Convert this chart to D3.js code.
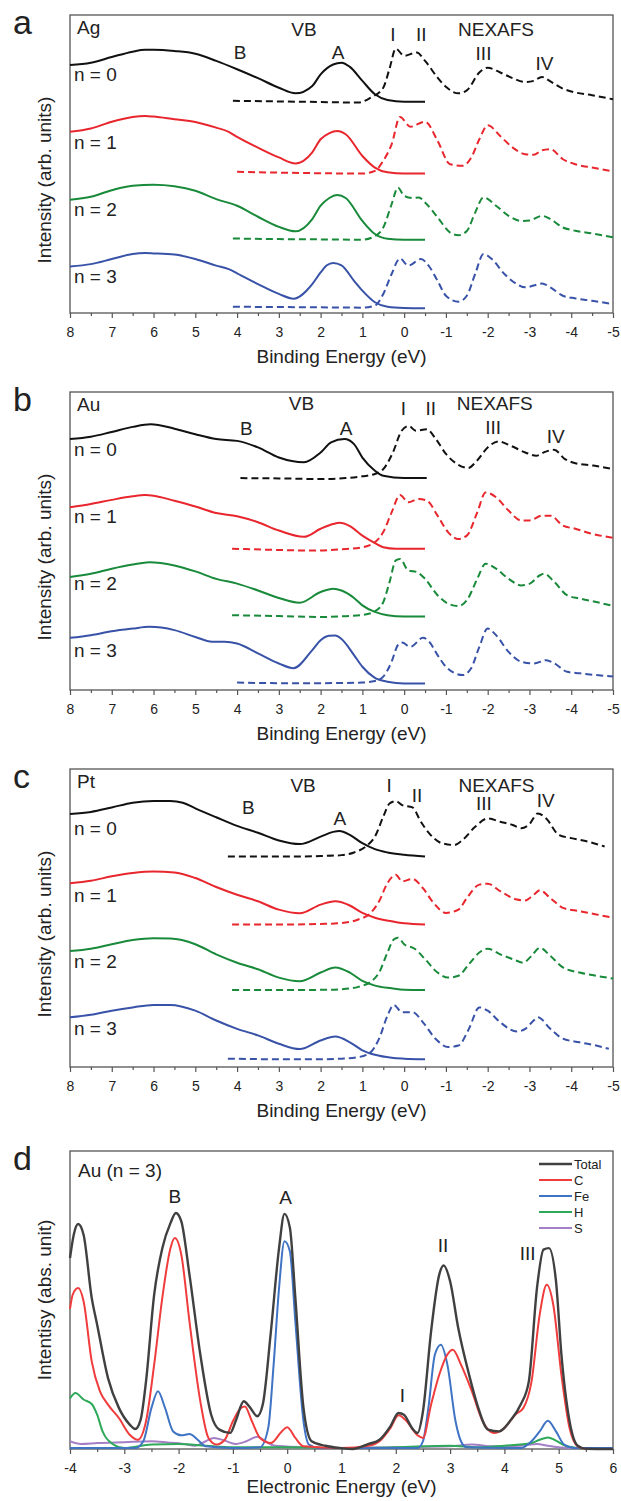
<!DOCTYPE html>
<html>
<head>
<meta charset="utf-8">
<script src="https://cdn.jsdelivr.net/npm/d3@7"></script>
<style>
  body { margin: 0; background: #fff; }
  text { font-family: "Liberation Sans", Arial, sans-serif; fill: #222; }
</style>
</head>
<body>
<svg id="chart" width="621" height="1501"></svg>
<script>

// ---- Data (energy in eV, intensity in % of panel height) ----

// a: Ag
var agVB0 = [[8,83.2],[7.5,84.0],[7,85.9],[6.5,87.7],[6.2,88.3],[6,88.3],[5.5,87.9],[5,87.0],[4.5,84.6],[4,81.8],[3.5,78.8],[3,75.6],[2.6,73.7],[2.2,76.2],[2,80.1],[1.7,83.4],[1.5,84.0],[1.3,82.6],[1,77.9],[0.7,73.4],[0.4,71.5],[0,70.9],[-0.5,70.9]];
var agNX0 = [[4.1,71.2],[3,71.0],[2,70.8],[1.1,70.6],[0.8,72.3],[0.5,75.6],[0.35,82],[0.2,88.7],[0,86.3],[-0.3,87.4],[-0.5,84.6],[-0.8,79],[-1,75.9],[-1.3,73.7],[-1.5,74.7],[-1.8,80.7],[-2,82.3],[-2.3,80.7],[-2.6,78.8],[-2.9,77.5],[-3.1,77.9],[-3.3,79.2],[-3.5,77.7],[-3.8,75.3],[-4.1,74],[-4.5,73.1],[-5,71.7]];
var agVB1 = [[8,60.8],[7.5,61.9],[7,64.2],[6.5,65.8],[6.2,66.1],[6,65.9],[5.5,65.0],[5,64.1],[4.5,62.2],[4.2,60.8],[4,59.1],[3.5,55.5],[3,52.2],[2.6,50.2],[2.2,53.9],[2,58.3],[1.8,60.3],[1.6,61.1],[1.4,60.0],[1,52.7],[0.7,48.8],[0.4,47.2],[0,46.8],[-0.5,46.8]];
var agNX1 = [[4,47.4],[3,47.1],[2,46.9],[1,46.8],[0.7,47.7],[0.5,51.1],[0.3,56.6],[0.1,65.8],[-0.15,62.5],[-0.5,64.2],[-0.8,57.8],[-1.1,49.9],[-1.4,49.4],[-1.6,52],[-1.8,58.3],[-2,63.0],[-2.3,59.4],[-2.6,55.5],[-2.9,53.3],[-3.1,53.1],[-3.3,54.6],[-3.5,55],[-3.8,51.6],[-4.1,49.9],[-4.5,48.8],[-5,47.5]];
var agVB2 = [[8,38.0],[7.5,39.0],[7,41.2],[6.5,42.7],[6,43.0],[5.5,42.5],[5,41.0],[4.5,38.2],[4,36.0],[3.5,32.3],[3,28.9],[2.6,27.4],[2.2,31.5],[2,36.0],[1.8,38.5],[1.6,39.6],[1.4,38.6],[1,30.9],[0.7,26.5],[0.4,24.9],[0,24.6],[-0.5,24.6]];
var agNX2 = [[4.1,25.0],[3,24.8],[2,24.7],[1,24.6],[0.7,25.8],[0.5,28.7],[0.3,36.5],[0.15,42.1],[0,39.3],[-0.2,38.6],[-0.35,38.8],[-0.5,37.1],[-0.8,32.1],[-1.1,27.0],[-1.3,26.1],[-1.5,27.5],[-1.7,33.7],[-1.9,38.8],[-2.2,36.0],[-2.5,32.6],[-2.8,30.9],[-3,31.0],[-3.3,32.6],[-3.5,31.5],[-3.8,28.7],[-4.1,27.6],[-4.5,26.7],[-5,25.4]];
var agVB3 = [[8,15.6],[7.5,16.4],[7,18.1],[6.5,19.8],[6.2,20.1],[6,20.0],[5.5,19.6],[5,18.1],[4.5,15.9],[4.2,14.7],[4,13.3],[3.5,9.7],[3,6.4],[2.65,4.8],[2.2,9.7],[2,13.6],[1.85,16.0],[1.7,16.8],[1.5,16.0],[1.2,10.8],[1,7.5],[0.7,3.6],[0.4,2.1],[0,1.7],[-0.5,1.6]];
var agNX3 = [[4.1,2.1],[3,2.0],[2,1.9],[1,1.8],[0.7,2.5],[0.5,6.4],[0.3,13.1],[0.1,18.3],[-0.1,15.9],[-0.4,18.1],[-0.6,15.6],[-0.8,10.8],[-1,5.8],[-1.3,3.8],[-1.5,5.8],[-1.7,13.1],[-1.9,19.8],[-2.1,18.1],[-2.4,13.1],[-2.7,9.7],[-2.9,8.6],[-3.1,9.2],[-3.3,9.9],[-3.5,8.6],[-3.8,5.8],[-4.1,4.9],[-4.5,4.1],[-5,3.0]];

// b: Au
var auVB0 = [[8,84.2],[7.5,85.0],[7,86.6],[6.5,88.3],[6.07,89.2],[5.5,87.7],[5,85.8],[4.5,84.2],[4,83.6],[3.5,81.4],[3,78.0],[2.4,76.4],[2,79.7],[1.75,83.1],[1.43,84.2],[1.2,82.5],[1,78],[0.7,73.6],[0.5,71.9],[0,71.1],[-0.54,71.1]];
var auNX0 = [[3.92,71.1],[3,71.0],[2,70.8],[1.4,71.1],[1,71.7],[0.7,72.5],[0.5,74.1],[0.27,79.7],[0.06,87],[-0.11,88.6],[-0.28,87],[-0.54,87.5],[-0.76,84.2],[-1,79.2],[-1.27,75.8],[-1.53,74.5],[-1.74,76.9],[-2,81.4],[-2.26,83.4],[-2.56,81.9],[-2.9,79.7],[-3.16,78.6],[-3.37,79.9],[-3.59,80.6],[-3.85,77.5],[-4.1,76.1],[-4.53,75.3],[-5,74.1]];
var auVB1 = [[8,61.3],[7.5,62.4],[7,63.8],[6.5,65.0],[6.2,65.4],[6,65.2],[5.5,63.5],[5,61.6],[4.5,59.4],[4,58.3],[3.5,56.3],[3,53.5],[2.4,51.4],[2,54.1],[1.7,55.7],[1.55,56.1],[1.3,55],[1,51.8],[0.7,49.3],[0.5,47.9],[0.2,47.4],[-0.5,47.4]];
var auNX1 = [[4.12,47.4],[3,47.0],[2.2,46.8],[1.5,47.2],[1,47.9],[0.7,49.6],[0.5,53],[0.3,59.6],[0.1,65.4],[-0.1,63],[-0.35,64.1],[-0.55,63.5],[-0.8,58.5],[-1.05,53],[-1.3,50.7],[-1.5,51.8],[-1.75,59.6],[-1.95,66.3],[-2.2,64.7],[-2.5,60.2],[-2.8,56.9],[-3,56.9],[-3.3,58.5],[-3.5,58.5],[-3.8,55.2],[-4.1,54.1],[-4.5,52.4],[-5,51.1]];
var auVB2 = [[8,37.9],[7.5,39.0],[7,40.7],[6.5,42.1],[6.1,42.9],[5.5,41.8],[5,39.8],[4.5,37.3],[4,35.7],[3.5,33.4],[3,30.9],[2.5,29.3],[2,32.9],[1.7,34.0],[1.5,33.4],[1.2,30.9],[1,28.4],[0.7,26.2],[0.4,25.1],[0,24.7],[-0.5,24.7]];
var auNX2 = [[4.12,25.1],[3,24.8],[2,24.5],[1.5,24.7],[1,25.2],[0.7,26.4],[0.5,29.5],[0.35,36.2],[0.2,43.5],[0.1,44],[-0.1,40.1],[-0.3,39.6],[-0.5,37.3],[-0.8,31.8],[-1.05,29],[-1.3,28.2],[-1.5,30.1],[-1.75,37.3],[-1.95,42.4],[-2.2,40.7],[-2.5,37.3],[-2.8,35.1],[-3,35.6],[-3.25,38.5],[-3.35,39],[-3.6,36.2],[-3.9,31.8],[-4.2,30.7],[-4.6,29.5],[-5,28.2]];
var auVB3 = [[8,17.5],[7.5,18.4],[7,19.7],[6.5,20.6],[6.1,21.2],[5.5,20.1],[5,17.8],[4.6,16.2],[4.3,16.2],[4,15.6],[3.5,12.3],[3,8.9],[2.65,7.3],[2.2,13.4],[2,16.7],[1.8,18.2],[1.65,18.3],[1.5,17.1],[1.2,11.7],[1,7.8],[0.7,4.1],[0.4,2.8],[0,2.2],[-0.5,2.2]];
var auNX3 = [[4,2.5],[3,2.3],[2,2.3],[1,2.5],[0.7,3.0],[0.5,4.5],[0.3,9.5],[0.15,15.1],[0.05,15.9],[-0.15,14.5],[-0.45,17.5],[-0.6,16.2],[-0.8,11.7],[-1,7.8],[-1.4,5],[-1.6,7.2],[-1.8,14.5],[-2,20.6],[-2.2,18.4],[-2.5,12.8],[-2.8,9.5],[-3.1,8.9],[-3.4,10],[-3.6,8.9],[-3.9,6.1],[-4.2,5.6],[-4.6,5.0],[-5,4.5]];

// c: Pt
var ptVB0 = [[8,84.9],[7.5,85.6],[7,87.1],[6.5,88.7],[6,89.3],[5.6,89.3],[5.3,88.7],[5,86.8],[4.5,83.8],[4,80.9],[3.5,78.6],[3,76],[2.5,74.8],[2,77.3],[1.7,78.9],[1.55,79.2],[1.3,77.9],[1,75.1],[0.7,73.1],[0.4,72],[0,71.2],[-0.5,70.6]];
var ptNX0 = [[4.22,70.6],[3,70.6],[2,70.8],[1.5,71.1],[1.2,72],[0.9,74.2],[0.7,77.3],[0.5,84],[0.35,88.4],[0.2,89.2],[0.05,87.9],[-0.2,87.1],[-0.4,82.3],[-0.6,78.4],[-0.9,75.1],[-1.2,74.5],[-1.4,76.2],[-1.7,80.6],[-2,83.4],[-2.3,82.3],[-2.6,81.2],[-2.8,80.1],[-3,81.5],[-3.2,85.1],[-3.4,83.4],[-3.7,77.9],[-4,76.8],[-4.4,75.6],[-4.8,74]];
var ptVB1 = [[8,61.7],[7.5,62.5],[7,64],[6.5,65.1],[6,65.6],[5.5,65.3],[5,63.4],[4.5,60.4],[4,57.8],[3.5,55.6],[3,52.8],[2.5,51.6],[2,54.5],[1.65,55.6],[1.3,54.2],[1,51.7],[0.7,50.1],[0.3,48.9],[0,48.2],[-0.5,47.8]];
var ptNX1 = [[4.12,47.8],[3,47.8],[2,48],[1.5,48.3],[1.1,49.5],[0.8,51.7],[0.6,55.6],[0.4,61.7],[0.2,64.5],[0.05,62.3],[-0.2,63.1],[-0.45,60],[-0.7,55.1],[-1,51.7],[-1.3,52.8],[-1.5,56.7],[-1.8,61.2],[-2,61.5],[-2.3,59],[-2.7,56.2],[-2.9,55.9],[-3.1,57.8],[-3.25,59.3],[-3.5,56.7],[-3.8,53.4],[-4.2,52.3],[-4.6,51.2],[-5,50.1]];
var ptVB2 = [[8,38.9],[7.5,39.7],[7,41.2],[6.5,42.6],[6,43.2],[5.6,43.1],[5,41.2],[4.5,37.8],[4,35],[3.5,32.8],[3,30],[2.5,28.8],[2,31.7],[1.65,33.4],[1.3,31.7],[1,28.9],[0.7,27.3],[0.3,26.4],[0,25.9],[-0.5,25.8]];
var ptNX2 = [[4.12,25.8],[3,25.8],[2,25.9],[1.5,26.1],[1.1,26.9],[0.8,28.6],[0.6,31.7],[0.4,38.4],[0.25,42.8],[0.15,43.4],[0,41.2],[-0.25,39.7],[-0.5,36.2],[-0.8,31.7],[-1.05,30],[-1.3,30.6],[-1.55,34.5],[-1.8,38.4],[-2,39.7],[-2.3,37.8],[-2.6,36.2],[-2.85,35],[-3.05,37.3],[-3.25,40],[-3.5,37.3],[-3.8,33.4],[-4.2,31.7],[-4.6,30.6],[-5,29.7]];
var ptVB3 = [[8,16.7],[7.5,17.5],[7,18.9],[6.5,20],[6,20.8],[5.6,20.8],[5,18.9],[4.5,15.6],[4,12.8],[3.5,10.6],[3,7.8],[2.5,6.0],[2,8.9],[1.65,10.2],[1.3,8.3],[1,5.6],[0.7,4.1],[0.3,3.1],[0,2.8],[-0.5,2.6]];
var ptNX3 = [[4.22,2.8],[3,2.6],[2,2.6],[1.5,2.8],[1.1,3.3],[0.8,5],[0.6,9.5],[0.4,17.2],[0.25,20.8],[0.05,18.4],[-0.2,18.4],[-0.45,15],[-0.75,9.5],[-1.05,6.7],[-1.3,7.2],[-1.55,12.8],[-1.8,20],[-2,18.9],[-2.3,15],[-2.7,11.9],[-2.9,12.8],[-3.1,15.6],[-3.2,16.7],[-3.5,12.8],[-3.8,9.5],[-4.2,8.3],[-4.6,7.2],[-4.9,6.1]];

// peak / region annotations: [text, energy, intensity]
var agMarks = [["VB",2.4,95.2],["I",0.27,93.5],["II",-0.41,93.5],["NEXAFS",-2.2,95.2],["B",3.93,87.4],["A",1.58,87.4],["III",-1.9,87.1],["IV",-3.36,84]];
var auMarks = [["VB",2.46,96.2],["I",0.02,94.5],["II",-0.64,94.5],["NEXAFS",-2.17,96.2],["B",3.78,87.8],["A",1.39,87.8],["III",-2.13,88.1],["IV",-3.63,85.1]];
var ptMarks = [["VB",2.42,94.7],["I",0.36,94.5],["II",-0.31,91.2],["NEXAFS",-2.21,94.7],["B",3.73,87.3],["A",1.54,83.4],["III",-1.91,88.4],["IV",-3.39,89.5]];

var nNames = ["n = 0", "n = 1", "n = 2", "n = 3"];
var agNLevel = [80.1, 57.2, 34.9, 12.2];
var auNLevel = [80.8, 58.2, 36.0, 13.4];
var ptNLevel = [80.1, 57.8, 35.6, 13.0];

var bindingTicks = d3.range(-5, 9);

// d: Au (n = 3) projected DOS
var dosTotal = [[-4,64.1],[-3.93,72],[-3.85,75.5],[-3.75,71.9],[-3.6,50.7],[-3.5,41.7],[-3.3,23.8],[-3.1,13.8],[-2.9,8.2],[-2.8,6.7],[-2.7,9.8],[-2.6,22.7],[-2.45,51.8],[-2.3,67.4],[-2.15,75.8],[-2.05,79.2],[-1.95,76.4],[-1.8,58.5],[-1.6,31.7],[-1.4,11.5],[-1.25,6.5],[-1.05,5.4],[-0.95,9.3],[-0.8,16],[-0.7,14.3],[-0.55,11],[-0.45,14.9],[-0.3,39.5],[-0.15,67.4],[-0.05,78.9],[0.05,74.2],[0.15,50.7],[0.3,13.8],[0.45,2.6],[0.7,1.1],[1,0.3],[1.2,0],[1.5,1.7],[1.7,3.1],[1.9,7.6],[2.05,12.1],[2.15,11.5],[2.3,7],[2.4,5.4],[2.5,12.6],[2.65,39.5],[2.8,58.5],[2.88,61.6],[3,56.3],[3.15,40.6],[3.35,24.9],[3.5,14.9],[3.7,6.5],[3.9,5.9],[4.1,9.3],[4.3,14.9],[4.45,22.7],[4.6,54],[4.72,66.9],[4.82,67.4],[4.95,56.3],[5.05,31.7],[5.2,9.3],[5.35,1.1],[5.5,0.1],[6,0]];
var dosC = [[-4,47],[-3.95,51.8],[-3.85,54],[-3.75,49.6],[-3.6,29.4],[-3.45,19.4],[-3.3,14.9],[-3.1,10.4],[-2.9,4.8],[-2.75,3.1],[-2.6,9.3],[-2.45,28.3],[-2.3,50.7],[-2.15,67.4],[-2.07,70.8],[-1.95,65.2],[-1.8,42.8],[-1.6,16],[-1.45,3.7],[-1.3,1.5],[-1.15,3.1],[-1,9.3],[-0.85,13.8],[-0.78,14.3],[-0.65,9.3],[-0.5,3.7],[-0.3,2],[-0.1,5.9],[0,7.3],[0.15,3.7],[0.3,0.9],[1,0.3],[1.5,1.1],[1.7,2.6],[1.9,7],[2.05,11.3],[2.2,9.3],[2.4,4.6],[2.5,3.7],[2.65,14.9],[2.8,24.9],[2.95,31.7],[3.05,33.3],[3.2,28.3],[3.4,19.4],[3.6,9.3],[3.8,5.4],[4,7],[4.2,11.5],[4.35,13.8],[4.5,22.7],[4.65,45.1],[4.78,55.1],[4.9,48.4],[5.05,24.9],[5.2,7],[5.35,0.9],[5.5,0],[6,0]];
var dosFe = [[-4,0.3],[-2.8,0.3],[-2.65,2.6],[-2.5,13.8],[-2.38,19.4],[-2.25,13.8],[-2.1,5.9],[-1.95,4.6],[-1.8,5],[-1.65,3.1],[-1.5,0.9],[-1,0.3],[-0.5,0.6],[-0.35,7],[-0.25,28.3],[-0.15,54],[-0.05,69.7],[0.05,66.3],[0.15,42.8],[0.3,9.3],[0.4,1.5],[0.6,0.3],[2.4,0.3],[2.5,2.6],[2.6,13.8],[2.72,31.7],[2.83,35],[2.95,28.3],[3.1,9.3],[3.2,2.6],[3.3,0.6],[4.3,0.3],[4.5,2.6],[4.65,5.9],[4.8,9.5],[4.95,5.9],[5.1,1.5],[5.3,0.3],[6,0.3]];
var dosH = [[-4,17],[-3.9,18.8],[-3.75,16.6],[-3.6,15.1],[-3.5,11.5],[-3.4,5.9],[-3.2,1.5],[-3,0.3],[-2.5,1.5],[-2,1.7],[-1.5,1.1],[-1,0.6],[0,0.6],[1,0.3],[2,0.6],[3,1.1],[3.5,0.6],[4,1.1],[4.5,2],[4.65,3.1],[4.8,3.9],[4.95,2.8],[5.15,0.9],[5.5,0.1],[6,0.1]];
var dosS = [[-4,2.6],[-3.8,1.7],[-3.5,2],[-3,2.3],[-2.5,2.6],[-2.2,2.2],[-1.9,1.7],[-1.7,1.1],[-1.5,2.6],[-1.35,3.7],[-1.15,2.8],[-0.95,1.7],[-0.75,2.6],[-0.55,4.1],[-0.4,2.6],[-0.25,1.2],[0.3,0.6],[1,0.3],[2,0.6],[3,0.9],[3.4,1.5],[3.8,0.9],[4.3,1.1],[4.6,1.7],[4.8,1.1],[5.2,0.3],[6,0]];
var dosNames = ["Total", "C", "Fe", "H", "S"];
var dosMarks = [["B",-2.07,84.8],["A",-0.03,84.5],["I",2.12,18.2],["II",2.87,68.3],["III",4.43,65.8]];
var energyTicks = d3.range(-4, 7);

// ---- Layout ----

var left = 70, right = 613, panelH = 298;
var font = "Liberation Sans, Arial, sans-serif";
var nColors = ["#111111", "#e8262d", "#188a3a", "#3852a8"];
var dosColors = ["#404040", "#f03c3c", "#3f73c4", "#2ea95a", "#a47fc6"];

var svg = d3.select("#chart");

var line = function(x, y) {
  return d3.line()
    .x(function(d) { return x(d[0]); })
    .y(function(d) { return y(d[1]); })
    .curve(d3.curveMonotoneX);
};

function frame(top, x, majors, xTitle, yTitle, letter, yMid, titleGap) {
  var g = svg.append("g");
  var bottom = top + panelH;

  // minor ticks every 0.5
  var dom = x.domain(), lo = Math.min(dom[0], dom[1]), hi = Math.max(dom[0], dom[1]);
  var minors = d3.range(lo + 0.5, hi, 1);
  var mi = g.append("g").attr("transform", "translate(0," + bottom + ")")
    .call(d3.axisBottom(x).tickValues(minors).tickSize(3).tickFormat(""));
  mi.select(".domain").remove();
  mi.selectAll("line").attr("stroke", "#555").attr("stroke-width", 1.2);

  var ax = g.append("g").attr("transform", "translate(0," + bottom + ")")
    .call(d3.axisBottom(x).tickValues(majors).tickSize(5).tickPadding(9)
      .tickFormat(function(d) { return String(d); }));
  ax.select(".domain").remove();
  ax.selectAll("line").attr("stroke", "#555").attr("stroke-width", 1.2);
  ax.selectAll("text").attr("font-family", font).attr("font-size", 14).attr("fill", "#222");

  g.append("rect")
    .attr("x", left).attr("y", top)
    .attr("width", right - left).attr("height", panelH)
    .attr("fill", "none").attr("stroke", "#555").attr("stroke-width", 1.3);

  g.append("text")
    .attr("x", (left + right) / 2).attr("y", bottom + titleGap)
    .attr("text-anchor", "middle").attr("font-size", 19)
    .text(xTitle);

  g.append("text")
    .attr("transform", "translate(51," + (top + yMid) + ") rotate(-90)")
    .attr("text-anchor", "middle").attr("font-size", 19)
    .text(yTitle);

  g.append("text")
    .attr("x", 13).attr("y", top + 19)
    .attr("font-size", 34)
    .text(letter);

  return g;
}

function marks(g, list, x, y, size) {
  g.selectAll(null)
    .data(list)
    .enter()
    .append("text")
    .attr("x", function(d) { return x(d[1]); })
    .attr("y", function(d) { return y(d[2]); })
    .attr("dy", "0.36em")
    .attr("text-anchor", "middle")
    .attr("font-size", size)
    .text(function(d) { return d[0]; });
}

// ---- Panels a, b, c ----

var xpsPanels = [
  { letter: "a", metal: "Ag", top: 15,  vb: [agVB0, agVB1, agVB2, agVB3], nx: [agNX0, agNX1, agNX2, agNX3], marks: agMarks, levels: agNLevel },
  { letter: "b", metal: "Au", top: 392, vb: [auVB0, auVB1, auVB2, auVB3], nx: [auNX0, auNX1, auNX2, auNX3], marks: auMarks, levels: auNLevel },
  { letter: "c", metal: "Pt", top: 769, vb: [ptVB0, ptVB1, ptVB2, ptVB3], nx: [ptNX0, ptNX1, ptNX2, ptNX3], marks: ptMarks, levels: ptNLevel }
];

xpsPanels.forEach(function(p) {
  var x = d3.scaleLinear().domain([8, -5]).range([left, right]);
  var y = d3.scaleLinear().domain([0, 100]).range([p.top + panelH, p.top]);
  var g = frame(p.top, x, bindingTicks, "Binding Energy (eV)", "Intensity (arb. units)", p.letter, 165, 50);
  var path = line(x, y);

  g.selectAll(".vb")
    .data(p.vb)
    .enter()
    .append("path")
    .attr("class", "vb")
    .attr("d", path)
    .attr("fill", "none")
    .attr("stroke", function(d, i) { return nColors[i]; })
    .attr("stroke-width", 2);

  g.selectAll(".nx")
    .data(p.nx)
    .enter()
    .append("path")
    .attr("class", "nx")
    .attr("d", path)
    .attr("fill", "none")
    .attr("stroke", function(d, i) { return nColors[i]; })
    .attr("stroke-width", 2)
    .attr("stroke-dasharray", "7,4");

  g.append("text")
    .attr("x", left + 7).attr("y", p.top + 19)
    .attr("font-size", 19)
    .text(p.metal);

  g.selectAll(".nlab")
    .data(p.levels)
    .enter()
    .append("text")
    .attr("class", "nlab")
    .attr("x", left + 4)
    .attr("y", function(d) { return y(d); })
    .attr("dy", "0.36em")
    .attr("font-size", 19)
    .text(function(d, i) { return nNames[i]; });

  marks(g, p.marks, x, y, 19);
});

// ---- Panel d ----

var dTop = 1151;
var xd = d3.scaleLinear().domain([-4, 6]).range([left, right]);
var yd = d3.scaleLinear().domain([0, 100]).range([dTop + panelH, dTop]);
var gd = frame(dTop, xd, energyTicks, "Electronic Energy (eV)", "Intentisy (abs. unit)", "d", 149, 44);
var dosSeries = [dosS, dosH, dosFe, dosC, dosTotal];
var dosOrder = [4, 3, 2, 1, 0];

gd.selectAll(".dos")
  .data(dosSeries)
  .enter()
  .append("path")
  .attr("class", "dos")
  .attr("d", line(xd, yd))
  .attr("fill", "none")
  .attr("stroke", function(d, i) { return dosColors[dosOrder[i]]; })
  .attr("stroke-width", function(d, i) { return dosOrder[i] === 0 ? 2.4 : 2; });

gd.append("text")
  .attr("x", left + 8).attr("y", dTop + 26)
  .attr("font-size", 19)
  .text("Au (n = 3)");

marks(gd, dosMarks, xd, yd, 19);

var legend = gd.selectAll(".legend")
  .data(dosNames)
  .enter()
  .append("g")
  .attr("class", "legend")
  .attr("transform", function(d, i) { return "translate(539," + (dTop + 13 + i * 16) + ")"; });

legend.append("line")
  .attr("x1", 0).attr("x2", 33)
  .attr("stroke", function(d, i) { return dosColors[i]; })
  .attr("stroke-width", function(d, i) { return i === 0 ? 2.6 : 2.2; });

legend.append("text")
  .attr("x", 35)
  .attr("dy", "0.36em")
  .attr("font-size", 13)
  .text(function(d) { return d; });

</script>
</body>
</html>
